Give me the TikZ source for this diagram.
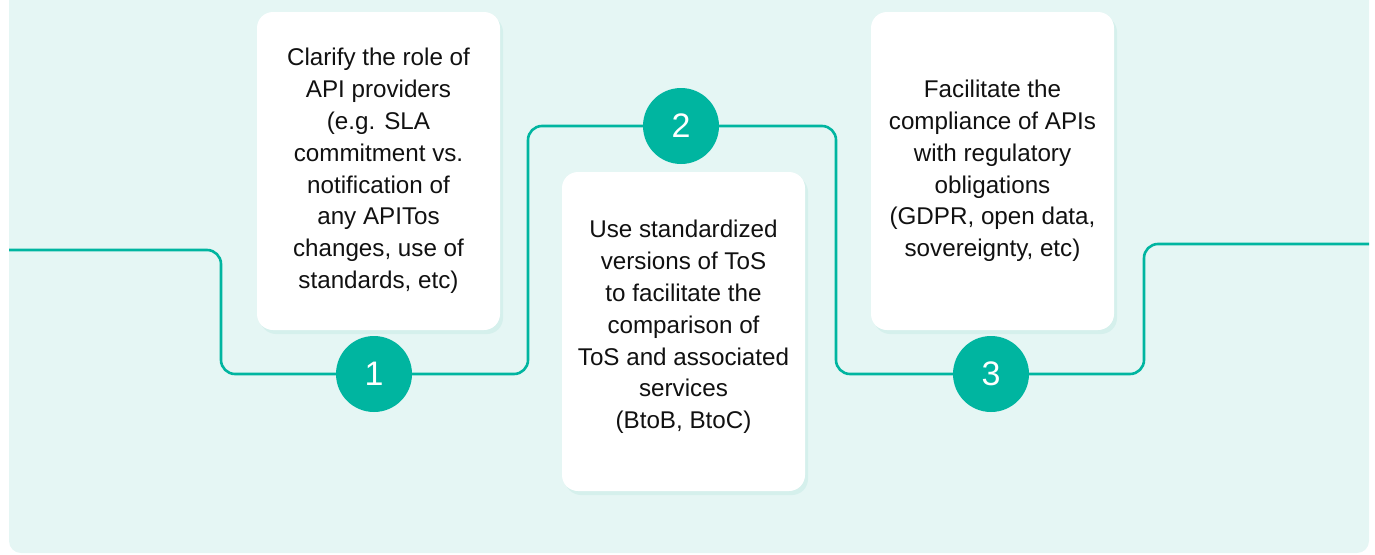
\documentclass[tikz,border=0pt]{standalone}
\usepackage{fontspec}
\setmainfont{Liberation Sans}
\usepackage{xcolor}
\usetikzlibrary{positioning, shadows}
\definecolor{stepteal}{HTML}{00B5A0}
\definecolor{mintbg}{HTML}{E5F6F4}
\definecolor{shadeteal}{HTML}{D2EFEB}
\definecolor{inkgray}{HTML}{111111}

\tikzset{
  card/.style={fill=white, rounded corners=16pt, minimum width=243pt,
    inner sep=0pt, align=center, text=inkgray,
    font=\fontsize{24.2}{31.8}\selectfont,
    drop shadow={shadow xshift=3pt, shadow yshift=-4pt, fill=shadeteal, opacity=.8}},
  badge/.style={circle, fill=stepteal, minimum size=76pt, inner sep=0pt,
    text=white, font=\fontsize{34}{34}\selectfont},
  flow/.style={draw=stepteal, line width=2.6pt, rounded corners=14pt}
}

\begin{document}
\begin{tikzpicture}[x=1pt, y=-1pt]
    \useasboundingbox (0,0) rectangle (1375,554);
    \fill[mintbg, rounded corners=12pt] (9,-20) rectangle (1369,553);

    % cards
    \node[card, minimum height=318pt] (b1) at (378.5,171) {%
      Clarify the role of\\API providers\\(e.g. SLA\\commitment vs.\\notification of\\any APITos\\changes, use of\\standards, etc)};
    \node[card, minimum height=319pt] (b2) at (683.5,331.5) {%
      Use standardized\\versions of ToS\\to facilitate the\\comparison of\\ToS and associated\\services\\(BtoB, BtoC)\\[-18pt]};
    \node[card, minimum height=318pt] (b3) at (992.5,171) {%
      Facilitate the\\compliance of APIs\\with regulatory\\obligations\\(GDPR, open data,\\sovereignty, etc)};

    % steps
    \node[badge] (c1) at (374,374) {1};
    \node[badge] (c2) at (681,126) {2};
    \node[badge] (c3) at (991,374) {3};

    \coordinate (start) at (9,250);
    \coordinate (end) at (1369,244);
    \coordinate (k0) at ([xshift=-153pt]c1.center);
    \coordinate (k1) at ([xshift=-153pt]c2.center);
    \coordinate (k2) at ([xshift=-155pt]c3.center);
    \coordinate (k3) at ([xshift=153pt]c3.center);

    % line
    \draw[flow] (start) -| (k0) -- (c1.west);
    \draw[flow] (c1.east) -| (k1) -- (c2.west);
    \draw[flow] (c2.east) -| (k2) -- (c3.west);
    \draw[flow] (c3.east) -| (k3 |- end) -- (end);
  \end{tikzpicture}
\end{document}
